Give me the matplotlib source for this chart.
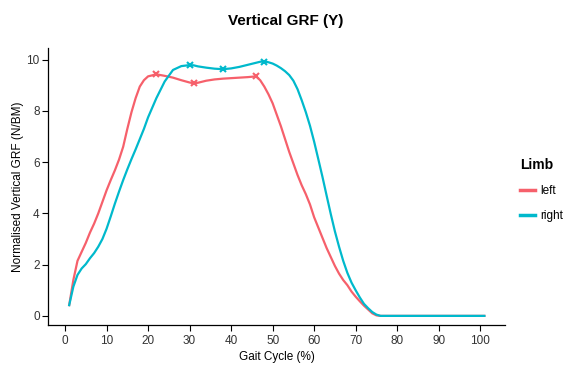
import matplotlib
matplotlib.use('Agg')
import matplotlib.pyplot as plt
from matplotlib.lines import Line2D

plt.rcParams['font.family'] = ['Liberation Sans', 'DejaVu Sans']

# valores
ciclo = (list(range(1, 21)) + [22, 24, 26, 28, 30, 31, 32, 34, 36, 38, 40, 42, 44, 46]
         + list(range(47, 77)) + [80, 90, 101])
izquierda = [0.42, 1.4, 2.15, 2.5, 2.85, 3.25, 3.6, 4.0, 4.45, 4.9,
             5.3, 5.68, 6.1, 6.6, 7.3, 7.95, 8.5, 8.95, 9.2, 9.35,
             9.43, 9.37, 9.3, 9.2, 9.11, 9.08, 9.1, 9.18, 9.23, 9.26, 9.28, 9.3, 9.32, 9.35,
             9.2, 8.95, 8.65, 8.3, 7.85, 7.4, 6.9, 6.4, 5.95, 5.5,
             5.1, 4.75, 4.35, 3.85, 3.45, 3.05, 2.65, 2.3, 1.95, 1.65,
             1.4, 1.2, 0.95, 0.75, 0.57, 0.4, 0.25, 0.1, 0.02, 0.0,
             0.0, 0.0, 0.0]
derecha = [0.42, 1.14, 1.6, 1.85, 2.02, 2.25, 2.45, 2.7, 3.0, 3.4,
           3.88, 4.38, 4.85, 5.3, 5.72, 6.12, 6.5, 6.9, 7.3, 7.75,
           8.5, 9.15, 9.6, 9.75, 9.79, 9.78, 9.74, 9.69, 9.65, 9.63, 9.66, 9.72, 9.8, 9.88,
           9.92, 9.93, 9.9, 9.85, 9.77, 9.67, 9.55, 9.4, 9.18, 8.85,
           8.42, 7.95, 7.42, 6.8, 6.12, 5.43, 4.7, 3.98, 3.3, 2.7,
           2.15, 1.68, 1.3, 1.0, 0.72, 0.47, 0.3, 0.15, 0.05, 0.0,
           0.0, 0.0, 0.0]
picos_izq = [22, 31, 46]
picos_der = [30, 38, 48]

rojo = '#F6606B'
azul = '#00B9CC'

fig = plt.figure(figsize=(5.65, 3.65), dpi=100)
ax = fig.add_axes([0.085, 0.11, 0.809, 0.758])

ax.plot(ciclo, izquierda, color=rojo, lw=1.6)
ax.plot(ciclo, derecha, color=azul, lw=1.6)
ax.plot(picos_izq, [izquierda[ciclo.index(c)] for c in picos_izq], 'x',
        color=rojo, ms=5, mew=1.5)
ax.plot(picos_der, [derecha[ciclo.index(c)] for c in picos_der], 'x',
        color=azul, ms=5, mew=1.5)

ax.set_xlim(-4.1, 106)
ax.set_ylim(-0.35, 10.45)
ax.set_xticks(range(0, 101, 10))
ax.set_yticks(range(0, 11, 2))
for s in ['top', 'right']:
    ax.spines[s].set_visible(False)
for s in ['left', 'bottom']:
    ax.spines[s].set_linewidth(0.9)
ax.tick_params(length=4, width=0.8, labelsize=8.5, labelcolor='#333333')
ax.tick_params(axis='y', pad=2)

ax.set_xlabel('Gait Cycle (%)', fontsize=8.5, labelpad=3)
ax.set_ylabel('Normalised Vertical GRF (N/BM)', fontsize=8.5, labelpad=2)
fig.text(286 / 565, 1 - 21 / 365, 'Vertical GRF (Y)', fontsize=11,
         fontweight='bold', ha='center', va='center')

handles = [Line2D([], [], color=rojo, lw=2.5), Line2D([], [], color=azul, lw=2.5)]
leg = fig.legend(handles, ['left', 'right'], title='Limb', loc='upper left',
                 bbox_to_anchor=(520 / 565, 0.568), frameon=False, fontsize=8.5,
                 handlelength=1.3, labelspacing=1.1, handletextpad=0.4,
                 borderpad=0, borderaxespad=0)
leg.get_title().set_fontweight('bold')
leg.get_title().set_fontsize(10)
leg._legend_box.align = 'left'

fig.savefig('out.png', dpi=100)
